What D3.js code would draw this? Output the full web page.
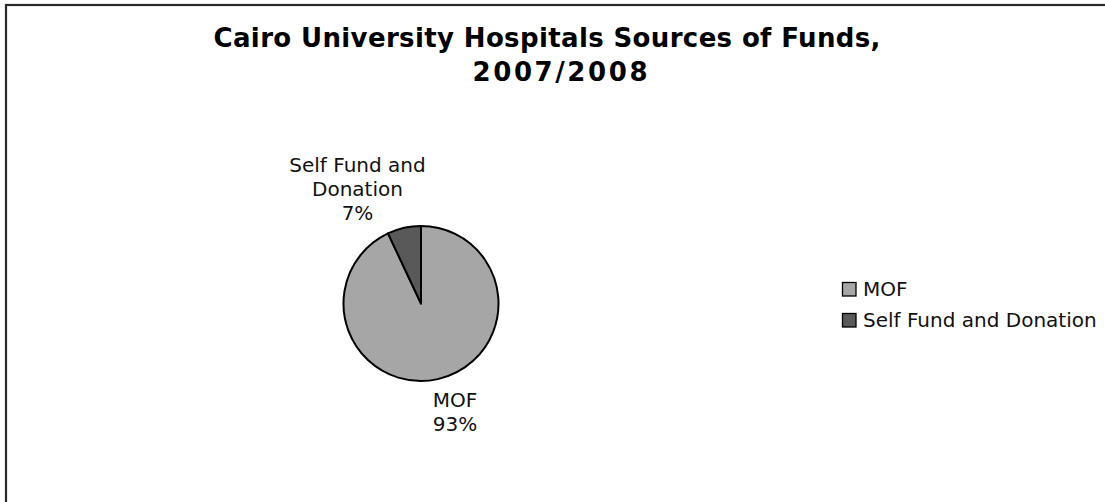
<!DOCTYPE html>
<html><head><meta charset="utf-8">
<script src="https://cdn.jsdelivr.net/npm/d3@7"></script>
<style>html,body{margin:0;padding:0;background:#fff;}svg{display:block;}</style>
</head><body>
<svg id="chart" width="1105" height="502"></svg>
<script>
const categories = ["MOF", "Self Fund and Donation"];
const values = [93, 7];
const labelText = ["93%", "7%"];
const colors = ["#a6a6a6", "#595959"];
const titleLines = ["Cairo University Hospitals Sources of Funds,", "2007/2008"];

const svg = d3.select("#chart");
const font = "'DejaVu Sans', Verdana, sans-serif";

svg.append("rect").attr("x", 6).attr("y", 5).attr("width", 1110).attr("height", 510)
  .attr("fill", "#fff").attr("stroke", "#2a2a2a").attr("stroke-width", 2.2);

svg.append("text").attr("x", 547).attr("y", 47).attr("text-anchor", "middle")
  .attr("font-family", font).attr("font-weight", "bold").attr("font-size", 26).attr("fill", "#000")
  .attr("textLength", 667).attr("lengthAdjust", "spacing")
  .text(titleLines[0]);
svg.append("text").attr("x", 560).attr("y", 81).attr("text-anchor", "middle")
  .attr("font-family", font).attr("font-weight", "bold").attr("font-size", 26).attr("fill", "#000")
  .attr("textLength", 175).attr("lengthAdjust", "spacing")
  .text(titleLines[1]);

const cx = 421, cy = 303.5, r = 77.5;
const data = categories.map((c, i) => ({cat: c, value: values[i], color: colors[i], pct: labelText[i]}));
const pie = d3.pie().value(d => d.value).sort(null);
const arc = d3.arc().innerRadius(0).outerRadius(r);
const arcs = pie(data);
const g = svg.append("g").attr("transform", `translate(${cx},${cy})`);
g.selectAll("path").data(arcs).join("path")
  .attr("d", arc).attr("fill", d => d.data.color)
  .attr("stroke", "#000").attr("stroke-width", 2).attr("stroke-linejoin", "round");

// data labels
const labelPos = [
  {x: 455, y: 407, lines: [categories[0], labelText[0]]},
  {x: 357.5, y: 172, lines: ["Self Fund and", "Donation", labelText[1]]}
];
labelPos.forEach(lp => {
  const t = svg.append("text").attr("text-anchor", "middle").attr("font-family", font)
    .attr("font-size", 20).attr("fill", "#111");
  lp.lines.forEach((l, i) => {
    t.append("tspan").attr("x", lp.x).attr("y", lp.y + i * 24).text(l);
  });
});

// legend
const lg = svg.append("g");
data.forEach((d, i) => {
  const y = 282 + i * 31;
  lg.append("rect").attr("x", 842.5).attr("y", y + 0.5).attr("width", 13.5).attr("height", 13.5)
    .attr("fill", d.color).attr("stroke", "#000").attr("stroke-width", 1.3);
  lg.append("text").attr("x", 863).attr("y", y + 14).attr("font-family", font)
    .attr("font-size", 20).attr("fill", "#111").text(d.cat);
});
</script>
</body></html>
